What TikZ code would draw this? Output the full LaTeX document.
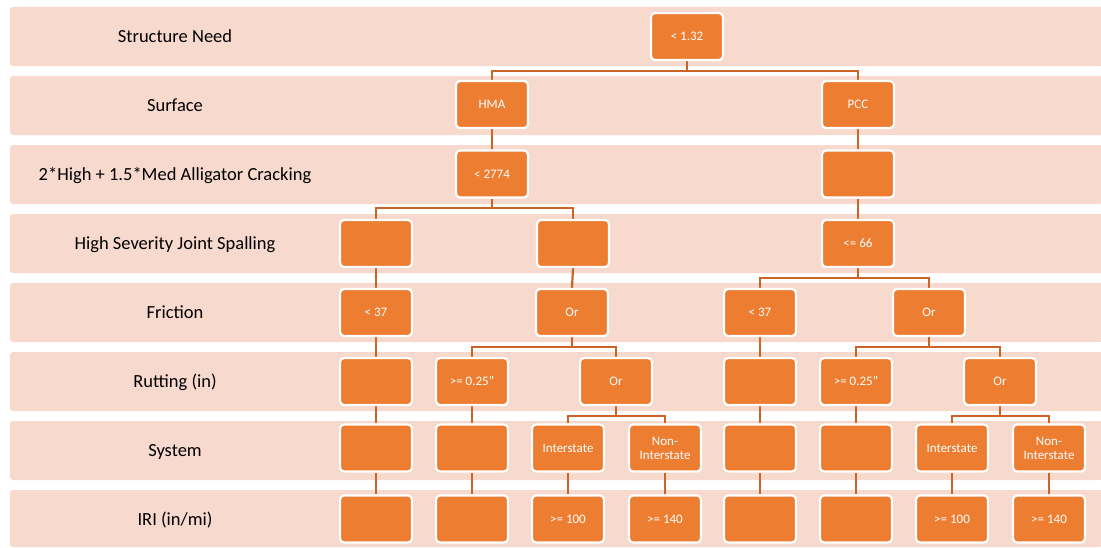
\documentclass[tikz,border=0pt]{standalone}
\usepackage{fontspec}
\setmainfont{Carlito}

\definecolor{bandfill}{RGB}{247,217,206}
\definecolor{boxfill}{RGB}{237,125,49}
\definecolor{linkcol}{RGB}{204,100,40}

\pgfdeclarelayer{bands}
\pgfdeclarelayer{links}
\pgfsetlayers{bands,links,main}

\begin{document}
\begin{tikzpicture}[x=1pt,y=-1pt,
  lbl/.style={font=\fontsize{18.5}{22}\selectfont, text=black,
    text height=11.9pt, text depth=0pt, inner sep=0pt},
  decision/.style={draw=white, line width=2.2pt, fill=boxfill,
    rounded corners=4pt, minimum width=72pt, minimum height=47pt,
    inner sep=0pt, text=white, font=\fontsize{13}{14}\selectfont,
    text height=8.4pt, text depth=0pt},
  decisiontwo/.style={draw=white, line width=2.2pt, fill=boxfill,
    rounded corners=4pt, minimum width=72pt, minimum height=47pt,
    inner sep=0pt, text=white, font=\fontsize{13}{14}\selectfont,
    align=center},
  link/.style={draw=linkcol, line width=2.2pt},
]
\useasboundingbox (0,0) rectangle (1101,547);

% horizontal bands, one per decision level
\begin{pgfonlayer}{bands}
\foreach \i in {0,...,7} {
  \pgfmathsetmacro\t{7+69*\i}
  \pgfmathsetmacro\b{min(\t+59,547)}
  \fill[bandfill, rounded corners=3pt] (10,\t) rectangle (1101,\b);
  \fill[bandfill] (20,\t) rectangle (1101,\b);
}
\end{pgfonlayer}

% level labels
\node[lbl] (l1) at (175,36.5)  {Structure Need};
\node[lbl] (l2) at (175,105.5) {Surface};
\node[lbl] (l3) at (175,174.5) {2*High + 1.5*Med Alligator Cracking};
\node[lbl] (l4) at (175,243.5) {High Severity Joint Spalling};
\node[lbl] (l5) at (175,312.5) {Friction};
\node[lbl] (l6) at (175,381.5) {Rutting (in)};
\node[lbl] (l7) at (175,450.5) {System};
\node[lbl] (l8) at (175,519.5) {IRI (in/mi)};

% level 1
\node[decision] (r1) at (687,36.5) {< 1.32};
% level 2
\node[decision] (hma) at (492,104.5) {HMA};
\node[decision] (pcc) at (858,104.5) {PCC};
% level 3
\node[decision] (hc) at (492,174) {< 2774};
\node[decision] (pc) at (858,174) {};
% level 4
\node[decision] (a4) at (376,243.5) {};
\node[decision] (b4) at (573,243.5) {};
\node[decision] (p4) at (858,243.5) {<= 66};
% level 5
\node[decision] (a5)  at (376,312.5) {< 37};
\node[decision] (b5)  at (572,312.5) {Or};
\node[decision] (p5a) at (760,312.5) {< 37};
\node[decision] (p5b) at (929,312.5) {Or};
% level 6
\node[decision] (a6)  at (376,381.5) {};
\node[decision] (b6a) at (472,381.5) {>= 0.25”};
\node[decision] (b6b) at (616,381.5) {Or};
\node[decision] (p6a) at (760,381.5) {};
\node[decision] (p6b) at (856,381.5) {>= 0.25”};
\node[decision] (p6c) at (1000,381.5) {Or};
% level 7
\node[decision] (a7)  at (376,448) {};
\node[decision] (b7)  at (472,448) {};
\node[decision] (b7a) at (568,448) {Interstate};
\node[decisiontwo] (b7b) at (665,448) {Non-\\Interstate};
\node[decision] (p7a) at (760,448) {};
\node[decision] (p7b) at (856,448) {};
\node[decision] (p7c) at (952,448) {Interstate};
\node[decisiontwo] (p7d) at (1049,448) {Non-\\Interstate};
% level 8
\node[decision] (a8)  at (376,519) {};
\node[decision] (b8)  at (472,519) {};
\node[decision] (c8)  at (568,519) {>= 100};
\node[decision] (d8)  at (665,519) {>= 140};
\node[decision] (p8a) at (760,519) {};
\node[decision] (p8b) at (856,519) {};
\node[decision] (p8c) at (952,519) {>= 100};
\node[decision] (p8d) at (1049,519) {>= 140};

% connectors, drawn beneath the boxes
\begin{pgfonlayer}{links}
  % branching connectors
  \foreach \p/\c in {r1/hma, r1/pcc, hc/a4, hc/b4, p4/p5a, p4/p5b,
                     b5/b6a, b5/b6b, p5b/p6b, p5b/p6c,
                     b6b/b7a, b6b/b7b, p6c/p7c, p6c/p7d}
    \draw[link] (\p.south) -- ++(0,9.5) -| (\c.north);
  % straight connectors
  \foreach \p/\c in {hma/hc, pcc/pc, pc/p4, a4/a5, b4/b5, a5/a6, p5a/p6a,
                     a6/a7, b6a/b7, p6a/p7a, p6b/p7b,
                     a7/a8, b7/b8, b7a/c8, b7b/d8, p7a/p8a, p7b/p8b,
                     p7c/p8c, p7d/p8d}
    \draw[link] (\p.south) -- (\c.north);
\end{pgfonlayer}
\end{tikzpicture}
\end{document}
